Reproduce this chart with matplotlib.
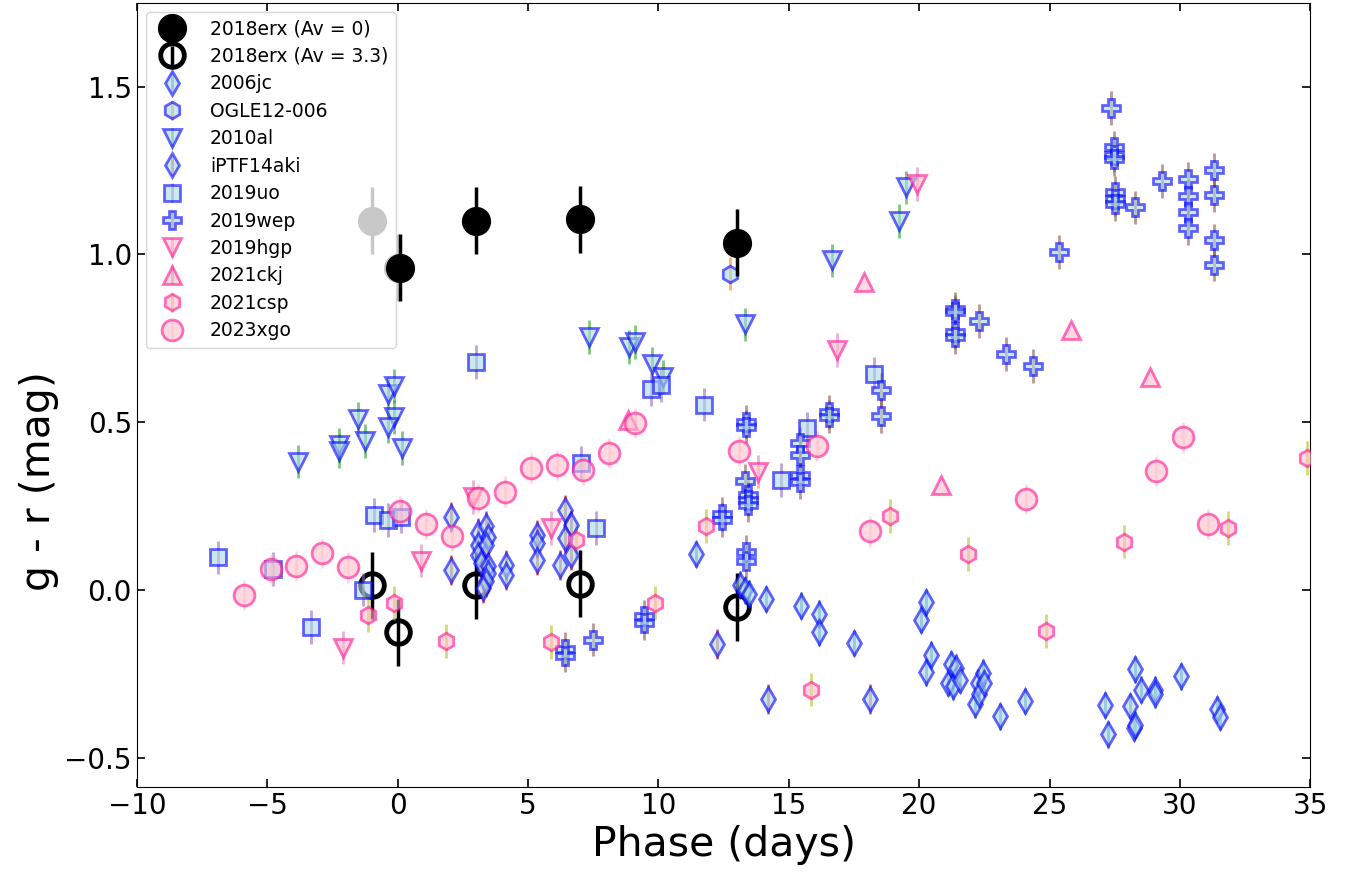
import matplotlib
matplotlib.use('Agg')
import matplotlib.pyplot as plt
import numpy as np

# 2018erx
erx_phase = [0.1, 3.0, 7.0, 13.0]
erx_av0 = [0.96, 1.10, 1.105, 1.035]
erx_av33_phase = [-1.0, 0.0, 3.0, 7.0, 13.0]
erx_av33 = [0.015, -0.125, 0.015, 0.02, -0.05]
erx_grey_phase = [-1.0, 0.0]
erx_grey = [1.10, 0.96]

# comparison objects
sn2006jc_phase = [11.46, 13.12, 13.31, 13.48, 14.14, 15.46, 16.15, 16.15, 17.51,
                  20.09, 20.28, 20.28, 20.47, 21.1, 21.23, 21.3, 21.43, 21.56,
                  22.14, 22.27, 22.3, 22.46, 22.5, 23.09, 24.07, 27.11, 27.24,
                  28.07, 28.24, 28.26, 28.29, 28.49, 29.05, 29.06, 30.03, 31.44, 31.53]
sn2006jc = [0.108, 0.016, 0.0, -0.011, -0.026, -0.046, -0.07, -0.125, -0.157,
            -0.088, -0.036, -0.244, -0.192, -0.276, -0.221, -0.286, -0.231, -0.266,
            -0.34, -0.276, -0.31, -0.246, -0.276, -0.375, -0.33, -0.342, -0.429,
            -0.345, -0.41, -0.4, -0.236, -0.296, -0.296, -0.31, -0.256, -0.355, -0.377]

ogle_phase = [12.73]
ogle = [0.943]

sn2010al_phase = [-3.81, -2.25, -2.25, -1.52, -1.27, -0.37, -0.15, -0.15, -0.37, 0.16,
                  7.33, 8.87, 9.11, 9.77, 10.18, 13.33, 16.65, 19.22, 19.5]
sn2010al = [0.383, 0.432, 0.415, 0.51, 0.444, 0.584, 0.608, 0.516, 0.487, 0.424,
            0.754, 0.725, 0.739, 0.675, 0.635, 0.792, 0.982, 1.099, 1.20]

iptf14aki_phase = [2.03, 2.03, 3.08, 3.08, 3.08, 3.2, 3.4, 3.46, 3.4, 3.46, 3.46, 3.4,
                   3.27, 4.17, 4.17, 5.36, 5.36, 5.36, 6.21, 6.4, 6.63, 6.4, 6.66,
                   12.26, 14.2, 18.11]
iptf14aki = [0.218, 0.061, 0.17, 0.135, 0.105, 0.08, 0.19, 0.16, 0.135, 0.071, 0.051,
             0.026, 0.007, 0.076, 0.046, 0.165, 0.14, 0.09, 0.076, 0.239, 0.195, 0.155,
             0.105, -0.16, -0.325, -0.325]

sn2019uo_phase = [-6.87, -4.76, -3.31, -1.33, -0.91, -0.35, 0.14, 3.02, 7.05, 7.62,
                  9.73, 10.11, 11.74, 14.71, 15.71, 18.26]
sn2019uo = [0.098, 0.064, -0.11, 0.002, 0.224, 0.21, 0.219, 0.68, 0.38, 0.185,
            0.598, 0.61, 0.553, 0.328, 0.482, 0.645]

sn2019wep_phase = [6.4, 6.4, 7.5, 9.45, 9.45, 12.44, 12.44, 13.31, 13.44, 13.44, 13.44,
                   13.37, 13.37, 13.37, 13.37, 15.42, 15.42, 15.42, 15.42, 16.56, 16.56,
                   18.52, 18.52, 21.39, 21.39, 21.39, 21.39, 22.31, 23.34, 24.36, 25.35,
                   27.37, 27.46, 27.46, 27.46, 27.53, 27.53, 27.53, 28.28, 29.3,
                   30.32, 30.32, 30.32, 30.32, 31.31, 31.31, 31.31, 31.31]
sn2019wep = [-0.175, -0.195, -0.147, -0.078, -0.098, 0.227, 0.21, 0.326, 0.284, 0.27, 0.254,
             0.115, 0.086, 0.502, 0.487, 0.437, 0.403, 0.343, 0.323, 0.531, 0.517,
             0.596, 0.519, 0.839, 0.828, 0.769, 0.755, 0.802, 0.704, 0.667, 1.007,
             1.436, 1.319, 1.295, 1.284, 1.185, 1.166, 1.151, 1.14, 1.218,
             1.225, 1.175, 1.126, 1.078, 1.252, 1.177, 1.042, 0.97]

sn2019hgp_phase = [-2.1, 0.89, 2.9, 5.87, 13.83, 16.86, 19.9]
sn2019hgp = [-0.171, 0.088, 0.278, 0.185, 0.353, 0.715, 1.21]

sn2021ckj_phase = [8.84, 17.87, 20.84, 25.83, 28.85]
sn2021ckj = [0.507, 0.918, 0.313, 0.774, 0.635]

sn2021csp_phase = [-1.15, -0.15, 1.86, 5.87, 6.85, 9.86, 11.84, 15.84, 18.87, 21.86,
                   24.85, 27.85, 31.85, 34.86]
sn2021csp = [-0.073, -0.038, -0.152, -0.155, 0.150, -0.038, 0.192, -0.296, 0.221, 0.108,
             -0.122, 0.145, 0.185, 0.393]

sn2023xgo_phase = [-5.9, -4.87, -3.89, -2.9, -1.91, 0.1, 1.1, 2.08, 3.1, 4.1, 5.1, 6.1,
                   7.1, 8.1, 9.12, 13.1, 16.1, 18.1, 24.09, 29.1, 30.1, 31.08]
sn2023xgo = [-0.015, 0.063, 0.071, 0.11, 0.068, 0.237, 0.198, 0.162, 0.275, 0.294, 0.363,
             0.373, 0.358, 0.408, 0.497, 0.415, 0.429, 0.175, 0.271, 0.355, 0.455, 0.197]

# typical errors
err_erx = 0.1
err_2006jc = 0.04
err_ogle = 0.05
err_2010al = 0.05
err_iptf = 0.045
err_2019uo = 0.05
err_2019wep = 0.05
err_2019hgp = 0.05
err_2021ckj = 0.0
err_2021csp = 0.05
err_2023xgo = 0.045

fig, ax = plt.subplots(figsize=(13.55, 8.76), dpi=100)
fig.subplots_adjust(left=0.101, right=0.967, top=0.997, bottom=0.102)

# 2018erx (grey points sit above the legend frame, as in the original)
ax.errorbar(erx_grey_phase, erx_grey, yerr=err_erx, fmt='o', ms=20, color='#c8c8c8',
            ecolor='#c8c8c8', elinewidth=2.5, zorder=6)
ax.errorbar(erx_phase, erx_av0, yerr=err_erx, fmt='o', ms=20, color='k',
            ecolor='k', elinewidth=2.5, label='2018erx (Av = 0)', zorder=7)
ax.errorbar(erx_av33_phase, erx_av33, yerr=err_erx, fmt='o', ms=17, mfc='none',
            mec='k', mew=3.5, ecolor='k', elinewidth=2.5, label='2018erx (Av = 3.3)', zorder=2)

blue = dict(mfc='lightblue', mec='blue', mew=2, elinewidth=2, alpha=0.6, zorder=3)
pink = dict(mfc='pink', mec='deeppink', mew=2, elinewidth=2, alpha=0.6, zorder=3)

ax.errorbar(sn2006jc_phase, sn2006jc, yerr=err_2006jc, fmt='d', ms=12,
            ecolor='tab:blue', label='2006jc', **blue)
ax.errorbar(ogle_phase, ogle, yerr=err_ogle, fmt='h', ms=12,
            ecolor='tab:orange', label='OGLE12-006', **blue)
ax.errorbar(sn2010al_phase, sn2010al, yerr=err_2010al, fmt='v', ms=13,
            ecolor='tab:green', label='2010al', **blue)
ax.errorbar(iptf14aki_phase, iptf14aki, yerr=err_iptf, fmt='d', ms=12,
            ecolor='tab:red', label='iPTF14aki', **blue)
ax.errorbar(sn2019uo_phase, sn2019uo, yerr=err_2019uo, fmt='s', ms=12,
            ecolor='tab:purple', label='2019uo', **blue)
ax.errorbar(sn2019wep_phase, sn2019wep, yerr=err_2019wep, fmt='P', ms=13,
            ecolor='tab:brown', label='2019wep', **blue)
ax.errorbar(sn2019hgp_phase, sn2019hgp, yerr=err_2019hgp, fmt='v', ms=13,
            ecolor='tab:pink', label='2019hgp', **pink)
ax.errorbar(sn2021ckj_phase, sn2021ckj, yerr=err_2021ckj, fmt='^', ms=13,
            ecolor='tab:gray', label='2021ckj', **pink)
ax.errorbar(sn2021csp_phase, sn2021csp, yerr=err_2021csp, fmt='h', ms=12,
            ecolor='tab:olive', label='2021csp', **pink)
ax.errorbar(sn2023xgo_phase, sn2023xgo, yerr=err_2023xgo, fmt='o', ms=15,
            ecolor='pink', label='2023xgo', **pink)

ax.set_xlim(-10, 35)
ax.set_ylim(-0.585, 1.75)
ax.set_xlabel('Phase (days)', fontsize=29.5)
ax.set_ylabel('g - r (mag)', fontsize=29.5, y=0.39)
ax.tick_params(direction='in', top=True, right=True, labelsize=20, length=6, width=1.2)
ax.legend(loc='upper left', fontsize=13.5, borderaxespad=0.5, handletextpad=1.0,
          labelspacing=0.45)

plt.savefig('out.png', dpi=100)
